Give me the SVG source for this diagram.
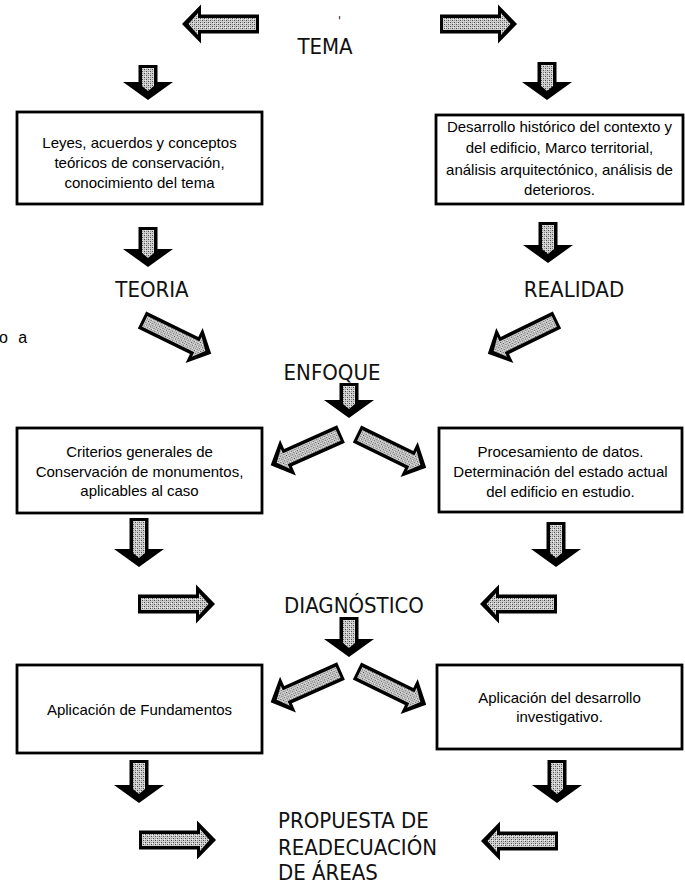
<svg xmlns="http://www.w3.org/2000/svg" xmlns:xlink="http://www.w3.org/1999/xlink" width="685" height="886" viewBox="0 0 685 886">
<style>
.box{fill:#fff;stroke:#000;stroke-width:2.8}
.bt{font-family:"Liberation Sans",Arial,sans-serif;font-size:15px;fill:#000;text-anchor:middle}
.lbl{font-family:"Liberation Sans Narrow","DejaVu Sans Condensed","Liberation Sans",sans-serif;font-size:22px;fill:#111}
.ab{fill:#000}
.ag{fill:url(#dots)}
</style>
<defs>
<pattern id="dots" width="4" height="4" patternUnits="userSpaceOnUse">
<rect width="4" height="4" fill="#cfcfcf"/>
<rect x="0" y="0" width="1" height="1" fill="#4a4a4a"/>
<rect x="2" y="2" width="1" height="1" fill="#4a4a4a"/>
<rect x="2" y="0" width="1" height="1" fill="#8a8a8a"/>
<rect x="0" y="2" width="1" height="1" fill="#8a8a8a"/>
<rect x="1" y="3" width="1" height="1" fill="#f2f2f2"/>
</pattern>
<g id="ha">
<polygon class="ab" points="0,-9.5 58,-9.5 58,-19.5 77,0 58,19.5 58,9.5 0,9.5"/>
<polygon class="ag" points="3,-6 61,-6 61,-11 70.5,0 61,11 61,6 3,6"/>
</g>
</defs>
<rect width="685" height="886" fill="#fff"/>

<g id="connectors">
<use xlink:href="#ha" href="#ha" transform="translate(259,24) scale(-1,1)"/>
<use xlink:href="#ha" href="#ha" transform="translate(440,24)"/>
<g transform="translate(148,65)"><polygon class="ab" points="-9.5,0 9.5,0 9.5,17 25,17 0,35 -25,17 -9.5,17"/><polygon class="ag" points="-6,3 6,3 6,21 0,26 -6,21"/></g>
<g transform="translate(547,62)"><polygon class="ab" points="-9.5,0 9.5,0 9.5,20 25,20 0,38 -25,20 -9.5,20"/><polygon class="ag" points="-6,3 6,3 6,24 0,29 -6,24"/></g>
<g transform="translate(148,227)"><polygon class="ab" points="-9.5,0 9.5,0 9.5,22 25,22 0,40 -25,22 -9.5,22"/><polygon class="ag" points="-6,3 6,3 6,26 0,31 -6,26"/></g>
<g transform="translate(548,222)"><polygon class="ab" points="-9.5,0 9.5,0 9.5,23 25,23 0,41 -25,23 -9.5,23"/><polygon class="ag" points="-6,3 6,3 6,27 0,32 -6,27"/></g>
<use xlink:href="#ha" href="#ha" transform="translate(142,320) rotate(26)"/>
<use xlink:href="#ha" href="#ha" transform="translate(557,320) rotate(154)"/>
<g transform="translate(349,383)"><polygon class="ab" points="-9.5,0 9.5,0 9.5,17 25,17 0,35 -25,17 -9.5,17"/><polygon class="ag" points="-6,3 6,3 6,21 0,26 -6,21"/></g>
<use xlink:href="#ha" href="#ha" transform="translate(341,434) rotate(156)"/>
<use xlink:href="#ha" href="#ha" transform="translate(357,434) rotate(26)"/>
<g transform="translate(139,518)"><polygon class="ab" points="-9.5,0 9.5,0 9.5,31 25,31 0,49 -25,31 -9.5,31"/><polygon class="ag" points="-6,3 6,3 6,35 0,40 -6,35"/></g>
<g transform="translate(556,522)"><polygon class="ab" points="-9.5,0 9.5,0 9.5,27 25,27 0,45 -25,27 -9.5,27"/><polygon class="ag" points="-6,3 6,3 6,31 0,36 -6,31"/></g>
<use xlink:href="#ha" href="#ha" transform="translate(138,604)"/>
<use xlink:href="#ha" href="#ha" transform="translate(557,604) scale(-1,1)"/>
<g transform="translate(349,617)"><polygon class="ab" points="-9.5,0 9.5,0 9.5,22 25,22 0,40 -25,22 -9.5,22"/><polygon class="ag" points="-6,3 6,3 6,26 0,31 -6,26"/></g>
<use xlink:href="#ha" href="#ha" transform="translate(341,671) rotate(156)"/>
<use xlink:href="#ha" href="#ha" transform="translate(357,671) rotate(26)"/>
<g transform="translate(139,760)"><polygon class="ab" points="-9.5,0 9.5,0 9.5,25 25,25 0,43 -25,25 -9.5,25"/><polygon class="ag" points="-6,3 6,3 6,29 0,34 -6,29"/></g>
<g transform="translate(557,760)"><polygon class="ab" points="-9.5,0 9.5,0 9.5,25 25,25 0,43 -25,25 -9.5,25"/><polygon class="ag" points="-6,3 6,3 6,29 0,34 -6,29"/></g>
<use xlink:href="#ha" href="#ha" transform="translate(139,840)"/>
<use xlink:href="#ha" href="#ha" transform="translate(558,841) scale(-1,1)"/>
</g>

<g id="tema"><text class="lbl" x="338" y="25" style="font-size:12px">'</text><text class="lbl" x="325" y="54" text-anchor="middle">TEMA</text></g>

<g id="leyes">
<rect class="box" x="17" y="112" width="245" height="92"/>
<text class="bt" x="139.5" y="147.5">Leyes, acuerdos y conceptos</text>
<text class="bt" x="139.5" y="167.5">teóricos de conservación,</text>
<text class="bt" x="139.5" y="187.5">conocimiento del tema</text>
</g>

<g id="desarrollo">
<rect class="box" x="436" y="115" width="247" height="89"/>
<text class="bt" x="559.5" y="132">Desarrollo histórico del contexto y</text>
<text class="bt" x="559.5" y="153">del edificio, Marco territorial,</text>
<text class="bt" x="559.5" y="175">análisis arquitectónico, análisis de</text>
<text class="bt" x="559.5" y="195">deterioros.</text>
</g>

<g id="teoria"><text class="lbl" x="152" y="297" text-anchor="middle">TEORIA</text></g>
<g id="realidad"><text class="lbl" x="574" y="297" text-anchor="middle">REALIDAD</text></g>
<g id="fragmento"><text x="-1" y="343" style="font-family:'Liberation Sans',Arial,sans-serif;font-size:16px;word-spacing:6px">o a</text></g>
<g id="enfoque"><text class="lbl" x="332" y="380" text-anchor="middle">ENFOQUE</text></g>

<g id="criterios">
<rect class="box" x="17" y="428" width="245" height="85"/>
<text class="bt" x="139.5" y="457">Criterios generales de</text>
<text class="bt" x="139.5" y="477">Conservación de monumentos,</text>
<text class="bt" x="139.5" y="496">aplicables al caso</text>
</g>

<g id="procesamiento">
<rect class="box" x="439" y="428" width="243" height="84"/>
<text class="bt" x="560.5" y="457">Procesamiento de datos.</text>
<text class="bt" x="560.5" y="477">Determinación del estado actual</text>
<text class="bt" x="560.5" y="497">del edificio en estudio.</text>
</g>

<g id="diagnostico"><text class="lbl" x="354" y="613" text-anchor="middle">DIAGNÓSTICO</text></g>

<g id="fundamentos">
<rect class="box" x="17" y="665" width="245" height="88"/>
<text class="bt" x="139.5" y="715">Aplicación de Fundamentos</text>
</g>

<g id="investigativo">
<rect class="box" x="437" y="665" width="245" height="84"/>
<text class="bt" x="559.5" y="703">Aplicación del desarrollo</text>
<text class="bt" x="559.5" y="722">investigativo.</text>
</g>

<g id="propuesta">
<text class="lbl" x="278" y="828">PROPUESTA DE</text>
<text class="lbl" x="278" y="855">READECUACIÓN</text>
<text class="lbl" x="278" y="880">DE ÁREAS</text>
</g>
</svg>
